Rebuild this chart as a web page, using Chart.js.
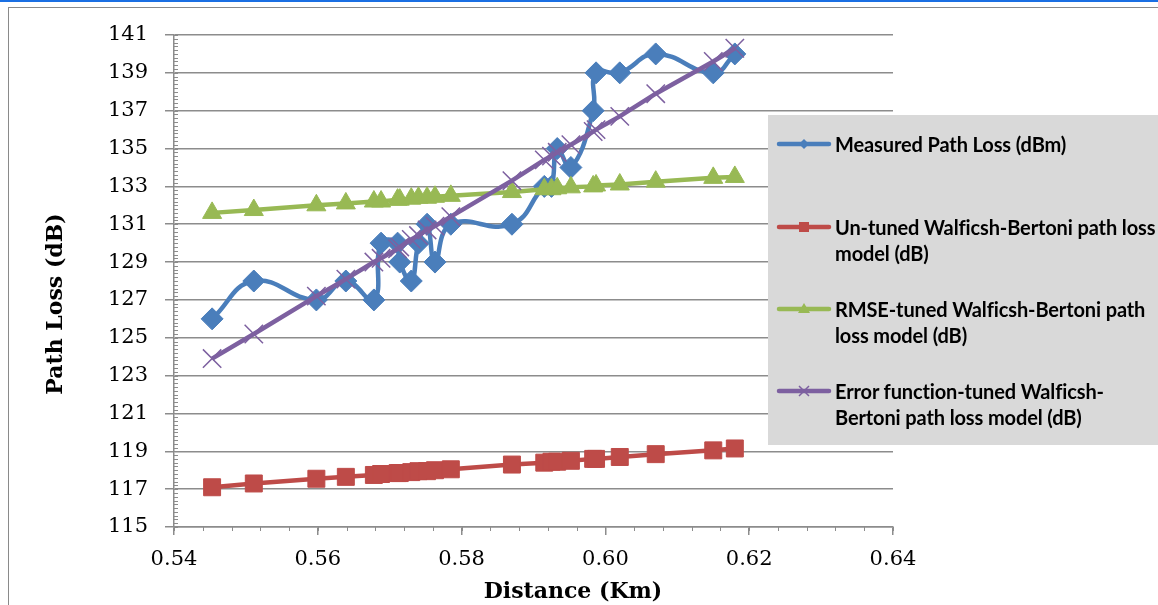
<!DOCTYPE html>
<html lang="en">

<head>
    <meta charset="UTF-8">
    <title>Path Loss vs Distance</title>
    <style>
        body { margin: 0; background: #fff; }
        #wrap { position: relative; width: 1158px; height: 605px; overflow: hidden; }
        #topline { position: absolute; left: 0; top: 0; width: 1158px; height: 2px; background: #1a6fe3; }
        #frame { position: absolute; left: 8px; top: 7px; width: 1200px; height: 700px; border-left: 1.5px solid #8a8a8a; border-top: 1.5px solid #8a8a8a; }
        #legend { position: absolute; left: 768px; top: 115px; width: 400px; height: 330px; background: #d9d9d9;
                  font: bold 20px Lato, "Open Sans", sans-serif; color: #000; letter-spacing: -0.12px; }
        .item { position: absolute; left: 8px; }
        .item svg { position: absolute; left: 0; top: 0; }
        .item div { position: absolute; left: 59px; top: -13px; line-height: 26px; white-space: nowrap; }
        .axtitle { position: absolute; width: 300px; height: 28px; line-height: 28px; text-align: center;
                   font: bold 22px "DejaVu Serif", serif; color: #000; white-space: nowrap; }
    </style>
</head>

<body>
    <div id="wrap">
        <canvas id="myChart" width="1158" height="605"></canvas>
        <div id="frame"></div>
        <div id="topline"></div>
        <div class="axtitle" style="left:-95px; top:290px; transform: rotate(-90deg);">Path Loss (dB)</div>
        <div class="axtitle" style="left:423px; top:577px;">Distance (Km)</div>
        <div id="legend">
            <div class="item" style="top:29px">
                <svg width="58" height="14" style="top:-7px"><line x1="3" y1="7" x2="53" y2="7" stroke="#4a7ebb" stroke-width="4.5" stroke-linecap="round"/><path d="M28 2 L33 7 L28 12 L23 7 Z" fill="#4a7ebb"/></svg>
                <div>Measured Path Loss (dBm)</div>
            </div>
            <div class="item" style="top:112px">
                <svg width="58" height="14" style="top:-7px"><line x1="3" y1="7" x2="53" y2="7" stroke="#be4b48" stroke-width="4.5" stroke-linecap="round"/><rect x="23" y="2" width="10" height="10" fill="#be4b48"/></svg>
                <div>Un-tuned Walficsh-Bertoni path loss<br>model (dB)</div>
            </div>
            <div class="item" style="top:194px">
                <svg width="58" height="14" style="top:-7px"><line x1="3" y1="7" x2="53" y2="7" stroke="#98b954" stroke-width="4.5" stroke-linecap="round"/><path d="M28 1 L34 11 L22 11 Z" fill="#98b954"/></svg>
                <div>RMSE-tuned Walficsh-Bertoni path<br>loss model (dB)</div>
            </div>
            <div class="item" style="top:276px">
                <svg width="58" height="14" style="top:-7px"><line x1="3" y1="7" x2="53" y2="7" stroke="#7d60a0" stroke-width="4.5" stroke-linecap="round"/><path d="M23 2 L33 12 M33 2 L23 12" stroke="#7d60a0" stroke-width="1.5"/></svg>
                <div>Error function-tuned Walficsh-<br>Bertoni path loss model (dB)</div>
            </div>
        </div>
    </div>

    <script src="https://cdn.jsdelivr.net/npm/chart.js"></script>
    <script>
        // distance (Km)
        const v_distance = [0.5453, 0.5511, 0.5598, 0.5639, 0.5678, 0.5688, 0.5711, 0.5714, 0.5730, 0.5740, 0.5752, 0.5763,
                            0.5785, 0.5870, 0.5915, 0.5925, 0.5933, 0.5952, 0.5983, 0.5987, 0.6020, 0.6070, 0.6150, 0.6180];
        // path loss series
        const v_measured = [126, 128, 127, 128, 127, 130, 130, 129, 128, 130, 131, 129,
                            131, 131, 133, 133, 135, 134, 137, 139, 139, 140, 139, 140];
        const v_untuned = [117.1, 117.3, 117.55, 117.65, 117.75, 117.8, 117.85, 117.85, 117.9, 117.95, 117.95, 118.0,
                           118.05, 118.3, 118.4, 118.45, 118.45, 118.5, 118.6, 118.6, 118.7, 118.85, 119.05, 119.15];
        const v_rmse = [131.6, 131.75, 132.0, 132.1, 132.2, 132.2, 132.3, 132.3, 132.35, 132.4, 132.4, 132.45,
                        132.5, 132.7, 132.85, 132.85, 132.9, 132.95, 133.0, 133.05, 133.1, 133.25, 133.45, 133.5];
        const v_errfn = [123.9, 125.2, 127.2, 128.1, 129.0, 129.2, 129.7, 129.8, 130.2, 130.4, 130.7, 130.9,
                         131.4, 133.3, 134.4, 134.6, 134.8, 135.2, 135.9, 136.0, 136.7, 137.9, 139.6, 140.3];

        const v_labels = ["Measured Path Loss (dBm)", "Un-tuned Walficsh-Bertoni path loss model (dB)",
                          "RMSE-tuned Walficsh-Bertoni path loss model (dB)", "Error function-tuned Walficsh-Bertoni path loss model (dB)"];

        // axis ranges
        const v_xMin = 0.54, v_xMax = 0.64, v_xStep = 0.02;
        const v_yMin = 115, v_yMax = 141, v_yStep = 2;

        function f_points(p_values) {
            return v_distance.map((d, i) => ({ x: d, y: p_values[i] }));
        }

        const v_gridColor = "#8c8c8c";

        // small minor ticks like in Excel
        const v_minorTicks = {
            id: "minorTicks",
            afterDraw(chart) {
                const ctx = chart.ctx;
                const xs = chart.scales.x, ys = chart.scales.y;
                ctx.save();
                ctx.strokeStyle = v_gridColor;
                ctx.lineWidth = 1;
                ctx.beginPath();
                for (let i = 0; i <= 130; i++) {
                    const y = Math.round(ys.getPixelForValue(v_yMin + i * 0.2)) + 0.5;
                    ctx.moveTo(xs.left, y);
                    ctx.lineTo(xs.left + 4, y);
                }
                for (let i = 0; i <= 25; i++) {
                    const x = Math.round(xs.getPixelForValue(v_xMin + i * 0.004)) + 0.5;
                    ctx.moveTo(x, ys.bottom);
                    ctx.lineTo(x, ys.bottom + 4);
                }
                ctx.stroke();
                ctx.restore();
            }
        };

        const ctx = document.getElementById("myChart");

        new Chart(ctx, {
            type: "line",
            data: {
                datasets: [
                    {
                        label: v_labels[0],
                        data: f_points(v_measured),
                        borderColor: "#4a7ebb",
                        backgroundColor: "#4a7ebb",
                        borderWidth: 4.5,
                        pointStyle: "rectRot",
                        pointRadius: 11,
                        pointBorderWidth: 1,
                        tension: 0.45,
                        order: 3
                    },
                    {
                        label: v_labels[1],
                        data: f_points(v_untuned),
                        borderColor: "#be4b48",
                        backgroundColor: "#be4b48",
                        borderWidth: 4.5,
                        pointStyle: "rect",
                        pointRadius: 12,
                        pointBorderWidth: 1,
                        tension: 0,
                        order: 2
                    },
                    {
                        label: v_labels[2],
                        data: f_points(v_rmse),
                        borderColor: "#98b954",
                        backgroundColor: "#98b954",
                        borderWidth: 4.5,
                        pointStyle: "triangle",
                        pointRadius: 11,
                        pointBorderWidth: 1,
                        tension: 0,
                        order: 1
                    },
                    {
                        label: v_labels[3],
                        data: f_points(v_errfn),
                        borderColor: "#7d60a0",
                        backgroundColor: "#7d60a0",
                        borderWidth: 4.5,
                        pointStyle: "crossRot",
                        pointRadius: 13,
                        pointBorderWidth: 1.5,
                        tension: 0,
                        order: 0
                    }
                ]
            },
            options: {
                responsive: false,
                animation: false,
                devicePixelRatio: 1,
                layout: { padding: { left: 0, top: 35, right: 265, bottom: 0 } },
                plugins: {
                    legend: { display: false },
                    tooltip: { enabled: false }
                },
                scales: {
                    x: {
                        type: "linear",
                        min: v_xMin,
                        max: v_xMax,
                        afterFit: (s) => { s.height = 78; },
                        ticks: {
                            stepSize: v_xStep,
                            padding: 12,
                            color: "#000",
                            font: { family: "DejaVu Serif", size: 21 },
                            callback: (v) => v.toFixed(2)
                        },
                        grid: { drawOnChartArea: false, drawTicks: true, tickLength: 8, color: v_gridColor, lineWidth: 1.5 },
                        border: { color: v_gridColor, width: 1.5 }
                    },
                    y: {
                        min: v_yMin,
                        max: v_yMax,
                        afterFit: (s) => { s.width = 174; },
                        ticks: {
                            stepSize: v_yStep,
                            padding: 17,
                            color: "#000",
                            font: { family: "DejaVu Serif", size: 21 }
                        },
                        grid: { color: v_gridColor, lineWidth: 1.5, tickLength: 9 },
                        border: { color: v_gridColor, width: 1.5 }
                    }
                }
            },
            plugins: [v_minorTicks]
        });
    </script>
</body>

</html>
